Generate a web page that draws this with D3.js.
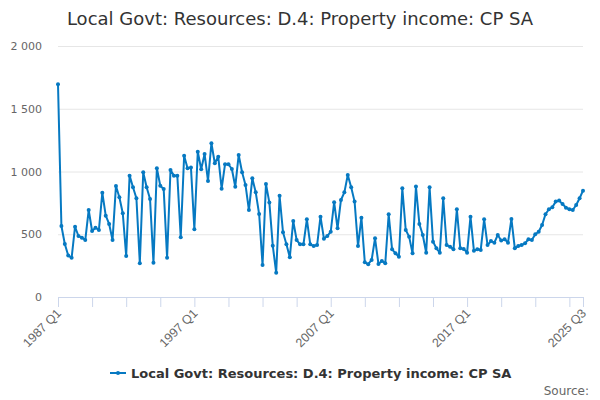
<!DOCTYPE html>
<html>
<head>
<meta charset="utf-8">
<script src="https://cdn.jsdelivr.net/npm/d3@7"></script>
<style>
  body { margin: 0; background: #fff; }
  svg { font-family: "DejaVu Sans", sans-serif; }
</style>
</head>
<body>
<svg width="600" height="400"></svg>
<script>
const title = "Local Govt: Resources: D.4: Property income: CP SA";
const seriesName = "Local Govt: Resources: D.4: Property income: CP SA";
const startYear = 1987;

// quarterly values, 1987 Q1 .. 2025 Q3
const values = [
  1695, 566, 422, 330, 313, 560, 486, 473, 454, 693,
  526, 552, 534, 831, 648, 582, 454, 885, 795, 667,
  327, 967, 874, 787, 269, 994, 874, 781, 273, 1026,
  887, 861, 313, 1012, 967, 967, 476, 1126, 1026, 1031,
  540, 1158, 1018, 1140, 925, 1225, 1066, 1118, 863, 1058,
  1058, 1020, 879, 1132, 994, 893, 693, 946, 834, 661,
  255, 901, 752, 409, 194, 807, 516, 420, 316, 606,
  454, 420, 420, 619, 420, 406, 414, 640, 465, 486,
  520, 755, 547, 773, 834, 972, 874, 760, 406, 632,
  276, 261, 295, 468, 263, 287, 269, 659, 380, 348,
  321, 866, 534, 481, 348, 880, 582, 494, 353, 874,
  441, 388, 353, 787, 414, 401, 380, 699, 388, 383,
  353, 640, 369, 380, 375, 619, 414, 446, 433, 494,
  450, 460, 433, 622, 388, 406, 414, 428, 460, 454,
  500, 520, 574, 659, 699, 715, 760, 768, 741, 712,
  699, 693, 733, 787, 847
];
const yTicks = [0, 500, 1000, 1500, 2000];
const labelIdx = [0, 40, 80, 120, 154];

const quarters = values.map((v, i) => `${startYear + Math.floor(i / 4)} Q${i % 4 + 1}`);
const data = values.map((v, i) => ({ i: i, q: quarters[i], v: v }));

const svg = d3.select("svg");
const margin = { top: 46, right: 17, bottom: 103, left: 58 };
const width = 600 - margin.left - margin.right;
const height = 400 - margin.top - margin.bottom;

const x = d3.scaleLinear()
  .domain([0, values.length - 1])
  .range([0, width]);

const y = d3.scaleLinear()
  .domain([0, 2000])
  .range([height, 0]);

const g = svg.append("g")
  .attr("transform", `translate(${margin.left},${margin.top})`);

// title
svg.append("text")
  .attr("x", 300)
  .attr("y", 25)
  .attr("text-anchor", "middle")
  .style("font-size", "18px")
  .attr("fill", "#333")
  .text(title);

// gridlines
g.selectAll(".grid")
  .data(yTicks.filter(d => d > 0))
  .enter().append("line")
  .attr("x1", 0)
  .attr("x2", width)
  .attr("y1", d => y(d) + 0.5)
  .attr("y2", d => y(d) + 0.5)
  .attr("stroke", "#e6e6e6");

// y axis labels
const fmt = d => d3.format(",")(d).replace(",", " ");
const yAxis = g.append("g")
  .call(d3.axisLeft(y).tickValues(yTicks).tickFormat(fmt).tickSize(0).tickPadding(16));
yAxis.select(".domain").remove();
yAxis.selectAll("text")
  .style("font-size", "11px")
  .style("font-family", "DejaVu Sans")
  .attr("fill", "#666");

// x axis
const tickIdx = d3.range(0, values.length, 10).concat([values.length - 1]);
const xAxis = g.append("g")
  .attr("transform", `translate(0,${height})`)
  .call(d3.axisBottom(x).tickValues(tickIdx).tickSize(10).tickFormat(""));
xAxis.select(".domain").attr("stroke", "#ccd6eb");
xAxis.selectAll(".tick line").attr("stroke", "#ccd6eb");

xAxis.selectAll(".xlabel")
  .data(labelIdx)
  .enter().append("text")
  .attr("class", "xlabel")
  .attr("transform", d => `translate(${x(d) + 4},${17}) rotate(-45)`)
  .attr("text-anchor", "end")
  .style("font-size", "12.5px")
  .attr("fill", "#666")
  .text(d => quarters[d]);

// the series
const line = d3.line()
  .x(d => x(d.i))
  .y(d => y(d.v));

g.append("path")
  .datum(data)
  .attr("fill", "none")
  .attr("stroke", "#0679c2")
  .attr("stroke-width", 2)
  .attr("stroke-linejoin", "round")
  .attr("d", line);

g.selectAll(".dot")
  .data(data)
  .enter().append("circle")
  .attr("class", "dot")
  .attr("cx", d => x(d.i))
  .attr("cy", d => y(d.v))
  .attr("r", 2)
  .attr("fill", "#0679c2");

// legend
const legend = svg.append("g").attr("transform", "translate(110,373)");
legend.append("line")
  .attr("x1", 0).attr("x2", 16)
  .attr("y1", 0).attr("y2", 0)
  .attr("stroke", "#0679c2")
  .attr("stroke-width", 2);
legend.append("circle")
  .attr("cx", 8).attr("cy", 0).attr("r", 2)
  .attr("fill", "#0679c2");
legend.append("text")
  .attr("x", 21)
  .attr("y", 4.5)
  .style("font-size", "13px")
  .style("font-weight", "bold")
  .attr("fill", "#333")
  .text(seriesName);

// credits
svg.append("text")
  .attr("x", 589)
  .attr("y", 395)
  .attr("text-anchor", "end")
  .style("font-size", "12px")
  .attr("fill", "#666")
  .text("Source:");
</script>
</body>
</html>
